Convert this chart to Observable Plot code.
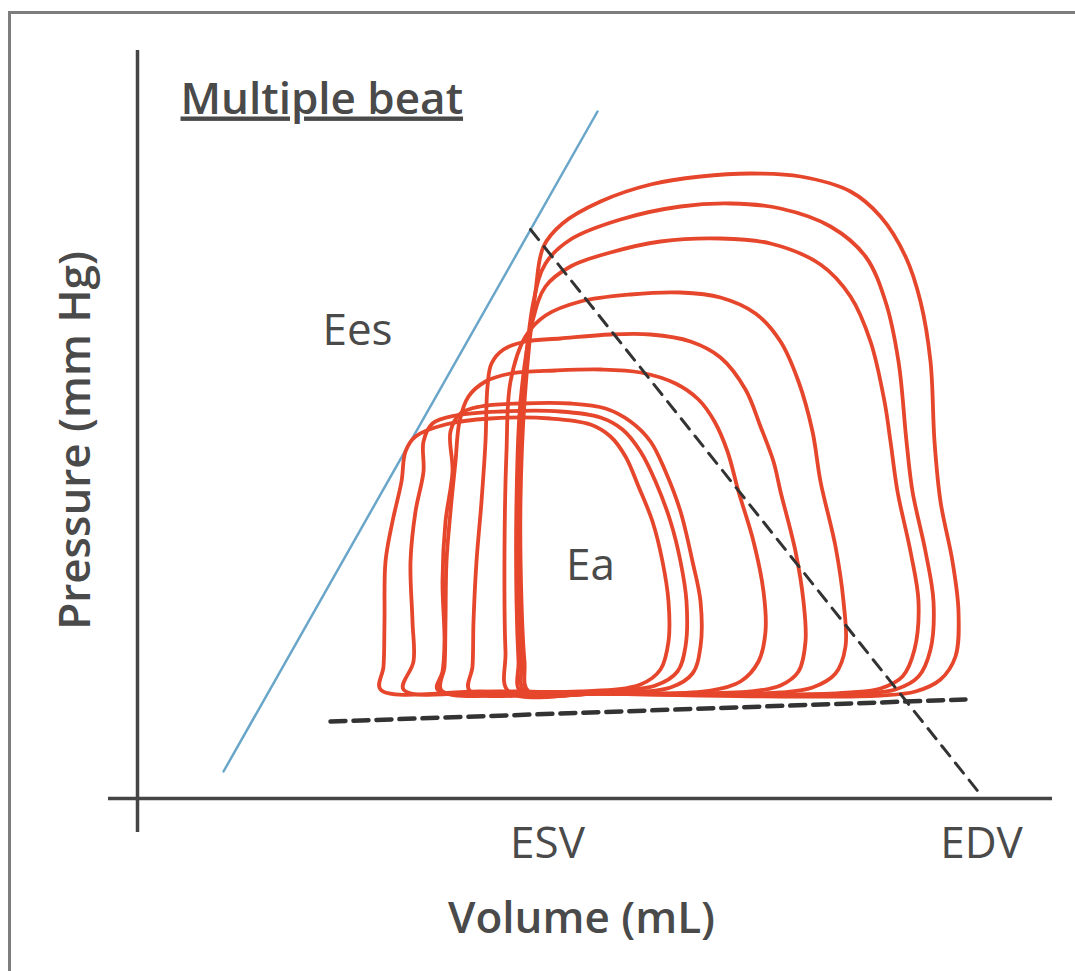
<!DOCTYPE html>
<html><head><meta charset="utf-8">
<script src="https://cdn.jsdelivr.net/npm/d3@7"></script>
<script src="https://cdn.jsdelivr.net/npm/@observablehq/plot@0.6"></script>
<style>
body{margin:0;background:#fff;overflow:hidden;}
#wrap{position:relative;width:1075px;height:971px;overflow:hidden;}
#border{position:absolute;left:8px;top:11px;width:1200px;height:1200px;border:3px solid #7d7d7d;box-sizing:border-box;pointer-events:none;}
</style></head><body><div id="wrap"><div id="border"></div></div>
<script>
// ---- data (volume in mL, pressure in mm Hg) ----
const beats = ["Beat 1","Beat 2","Beat 3","Beat 4","Beat 5","Beat 6","Beat 7","Beat 8","Beat 9"];
const beatVolume = [
  [78.2,92.6,112.6,132.6,148.6,155.6,160.6,163.6,164.2,163.0,160.6,159.4,158.6,156.6,153.6,148.6,142.6,132.6,122.6,112.6,102.6,92.6,85.0,81.2,79.6,77.4,76.6,76.8,77.4],
  [77.4,92.6,112.6,132.6,144.6,151.6,156.2,158.6,159.2,157.6,155.0,153.8,152.2,149.6,145.6,138.6,128.6,118.6,108.6,96.6,86.6,81.6,79.2,77.0,76.2,76.2,76.8],
  [76.6,92.6,112.6,132.6,142.6,148.6,153.0,155.4,156.2,154.6,152.0,150.6,149.4,146.6,142.6,136.6,126.6,116.6,104.6,94.6,86.6,81.6,79.0,76.6,75.8,75.8,76.2],
  [74.2,92.6,112.6,128.6,135.0,139.6,141.6,141.2,139.6,136.6,135.0,132.2,128.6,123.6,116.6,108.6,98.6,88.6,81.6,77.6,74.6,73.8,73.4,73.6],
  [66.4,88.6,108.6,122.6,128.6,132.2,133.6,133.2,131.6,128.6,127.2,124.6,121.6,116.6,110.6,102.6,94.6,84.6,77.6,73.2,70.8,70.0,69.6,68.8,67.8,67.2,67.0],
  [60.8,82.6,102.6,114.6,120.6,124.2,125.6,125.2,123.2,120.2,118.0,115.4,112.2,107.6,100.6,92.6,83.6,74.6,69.6,66.2,64.4,63.6,62.6,61.8,61.6,61.4],
  [60.0,76.6,96.6,106.6,111.0,112.6,112.6,111.0,108.6,105.6,102.6,98.6,93.6,86.6,76.6,68.6,64.6,62.6,63.0,61.6,61.0,61.4,61.0],
  [53.2,72.6,92.6,103.6,108.0,109.6,109.8,108.6,106.6,103.6,100.6,97.0,92.6,84.6,72.6,63.6,59.0,57.2,57.2,55.6,54.6,55.0,55.2],
  [48.6,68.6,88.6,100.6,104.6,106.2,106.2,105.0,103.0,100.2,97.6,94.6,90.6,82.6,70.6,61.6,55.6,53.6,52.8,51.0,49.6,49.4,49.2]
];
const beatPressure = [
  [21.4,21.0,20.6,20.4,20.6,21.4,23.8,28.4,37.4,47.4,59.4,71.4,87.4,99.4,108.4,116.4,121.4,124.4,125.0,124.4,122.8,119.4,115.0,110.4,101.4,79.4,59.4,39.4,27.4],
  [21.4,21.0,20.8,20.6,21.0,21.8,24.4,29.8,39.4,49.4,61.4,71.4,87.4,99.4,108.4,114.4,118.0,119.0,118.4,115.8,111.8,107.0,99.4,79.4,59.4,39.4,27.4],
  [21.4,21.0,20.8,20.8,21.2,22.0,24.4,29.8,39.4,49.4,61.4,71.4,79.4,91.4,100.4,106.8,111.0,112.0,111.4,109.2,106.4,102.4,95.4,79.4,59.4,39.4,27.4],
  [21.4,21.0,20.8,21.2,22.2,25.0,30.4,39.4,50.4,63.4,73.4,83.4,91.4,97.0,100.2,101.2,100.8,99.4,96.6,92.4,83.4,69.4,49.4,29.4],
  [21.6,21.2,21.0,21.4,22.6,25.4,31.4,39.4,49.4,61.4,67.4,74.4,81.8,88.2,91.4,92.8,92.8,92.0,91.4,89.8,87.0,82.4,71.4,59.4,47.4,35.4,26.4],
  [21.6,21.2,21.0,21.6,23.4,27.4,33.4,41.4,51.4,61.4,69.4,75.4,79.8,83.0,85.2,85.8,85.6,85.0,83.4,80.4,75.4,67.4,57.4,47.4,35.4,26.4],
  [21.8,21.4,21.2,22.2,25.0,30.4,39.4,47.4,57.4,65.4,71.4,75.4,78.0,79.0,79.0,78.4,77.0,73.4,65.4,55.4,43.4,31.4,25.4],
  [21.8,21.4,21.4,22.6,25.4,30.4,39.4,47.4,55.4,63.4,69.4,73.8,76.2,77.4,77.4,76.6,75.0,71.4,65.4,57.4,47.4,35.4,27.4],
  [21.8,21.4,21.4,22.8,25.8,31.4,39.4,47.4,55.4,62.4,68.4,72.4,74.8,76.0,76.0,74.8,72.4,69.4,63.4,55.4,47.4,35.4,26.4]
];
// end-systolic pressure-volume relation (Ees)
const espvrVolume = [17.2, 92.0];
const espvrPressure = [5.4, 137.4];
// arterial elastance (Ea)
const eaVolume = [78.6, 168.6];
const eaPressure = [113.8, 0.8];
// end-diastolic pressure-volume relation
const edpvrVolume = [38.6, 165.6];
const edpvrPressure = [15.4, 19.8];
// axes
const volumeAxisExtent = [-5.8, 183];
const pressureAxisExtent = [-6.8, 149.6];
const volumeTicks = [82, 168.8];
const volumeTickLabels = ["ESV", "EDV"];
const annotationText = ["Ees", "Ea"];
const annotationVolume = [44, 90.6];
const annotationPressure = [93.6, 46.6];

// ---- build tables ----
const loopRows = beats.flatMap((b, i) => beatVolume[i].map((v, j) => ({beat: b, volume: v, pressure: beatPressure[i][j]})));
const seg = (vs, ps) => vs.map((v, i) => ({volume: v, pressure: ps[i]}));
const annotations = annotationText.map((t, i) => ({text: t, volume: annotationVolume[i], pressure: annotationPressure[i]}));

const textColor = "#4a4a4a";
const font = "'Open Sans', 'Noto Sans', sans-serif";

const chart = Plot.plot({
  width: 1075,
  height: 971,
  marginTop: 0, marginRight: 0, marginBottom: 0, marginLeft: 0,
  x: {domain: [-27.4, 187.6], axis: null},
  y: {domain: [-34.6, 159.6], axis: null},
  style: {fontFamily: font, background: "transparent"},
  marks: [
    Plot.ruleX([0], {y1: pressureAxisExtent[0], y2: pressureAxisExtent[1], stroke: "#454545", strokeWidth: 3.5}),
    Plot.ruleY([0], {x1: volumeAxisExtent[0], x2: volumeAxisExtent[1], stroke: "#454545", strokeWidth: 3.5}),
    Plot.line(seg(espvrVolume, espvrPressure), {x: "volume", y: "pressure", stroke: "#6aa6c9", strokeWidth: 2.5}),
    Plot.line(loopRows, {x: "volume", y: "pressure", z: "beat", curve: "catmull-rom-closed", stroke: "#e6462b", strokeWidth: 3.8, strokeLinejoin: "round"}),
    Plot.line(seg(edpvrVolume, edpvrPressure), {x: "volume", y: "pressure", stroke: "#333", strokeWidth: 4.5, strokeDasharray: "15,8"}),
    Plot.line(seg(eaVolume, eaPressure), {x: "volume", y: "pressure", stroke: "#333", strokeWidth: 3, strokeDasharray: "13,9"}),
    Plot.text(volumeTicks, {x: d => d, y: 0, text: (d, i) => volumeTickLabels[i], dy: 45, lineAnchor: "middle", fontSize: 44, fill: textColor}),
    Plot.text(["Volume (mL)"], {x: 88.8, y: 0, text: d => d, dy: 120, lineAnchor: "middle", fontSize: 44, fontWeight: 600, fill: textColor}),
    Plot.text(["Pressure (mm Hg)"], {x: 0, y: 71.6, text: d => d, dx: -62, rotate: -90, lineAnchor: "middle", fontSize: 44, fontWeight: 600, fill: textColor}),
    Plot.text(annotations, {x: "volume", y: "pressure", text: "text", lineAnchor: "middle", fontSize: 44, fill: textColor}),
    Plot.text(["Multiple beat"], {x: 8.6, y: 137, text: d => d, textAnchor: "start", lineAnchor: "bottom", fontSize: 44, fontWeight: 600, fill: textColor, className: "title-text"})
  ]
});
d3.select(chart).selectAll(".title-text text").attr("text-decoration", "underline");
document.getElementById("wrap").insertBefore(chart, document.getElementById("border"));
</script></body></html>
